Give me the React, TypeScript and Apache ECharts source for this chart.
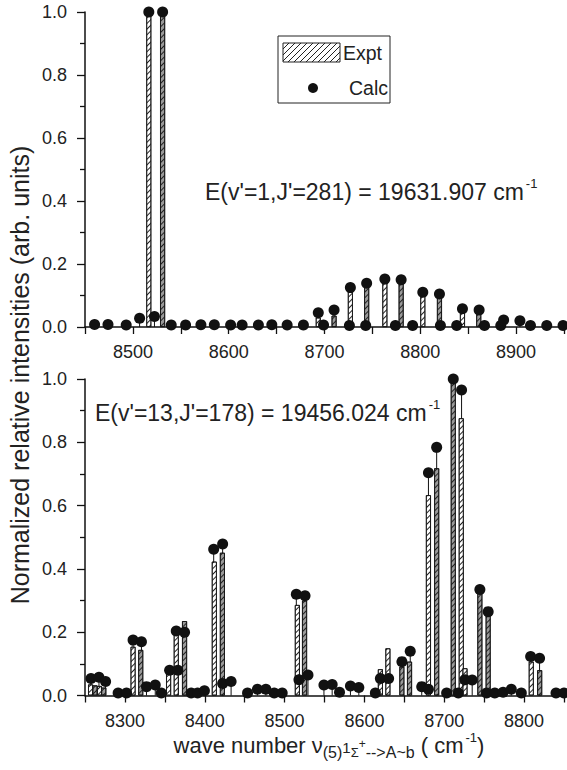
import React, { useEffect, useRef } from "react";
import * as echarts from "echarts";

// ---------- data ----------
// top panel: E(v'=1, J'=281)
const topExptLight: number[][] = [
  [8516.6, 1.0], [8693.5, 0.03], [8727, 0.125], [8763, 0.152], [8802.6, 0.11], [8844, 0.045],
];
const topExptDark: number[][] = [
  [8531, 1.0], [8710, 0.036], [8744, 0.139], [8780, 0.15], [8820, 0.105], [8861, 0.042],
];
const topCalc: number[][] = [
  [8460, 0.008], [8474, 0.008], [8493, 0.006], [8507, 0.028], [8516.6, 1.0], [8522.5, 0.033],
  [8531, 1.0], [8540, 0.006], [8555, 0.006], [8571, 0.007], [8585, 0.007], [8602, 0.006],
  [8614, 0.006], [8631, 0.006], [8645, 0.007], [8661, 0.006], [8678, 0.006], [8693.5, 0.045],
  [8699, 0.006], [8710, 0.054], [8726, 0.005], [8727, 0.125], [8743, 0.005], [8744, 0.139],
  [8763, 0.152], [8774, 0.005], [8780, 0.15], [8792, 0.005], [8802.6, 0.11], [8820, 0.105],
  [8821, 0.005], [8838, 0.005], [8844, 0.058], [8861.4, 0.054], [8867, 0.005], [8884, 0.005],
  [8887, 0.022], [8904, 0.02], [8915, 0.005], [8932, 0.005], [8949, 0.005],
];

// bottom panel: E(v'=13, J'=178)
const botExptLight: number[][] = [
  [8257, 0.035], [8268, 0.03], [8310.2, 0.154], [8354.7, 0.068], [8364.3, 0.195], [8412, 0.423],
  [8516, 0.286], [8620, 0.083], [8629.4, 0.149], [8680.2, 0.633], [8721.3, 0.876], [8726, 0.086],
  [8809, 0.107],
];
const botExptDark: number[][] = [
  [8262.5, 0.032], [8273.5, 0.025], [8319.8, 0.144], [8374.7, 0.235], [8422.1, 0.451], [8525, 0.3],
  [8646.9, 0.091], [8656.5, 0.107], [8690.5, 0.718], [8711.3, 1.0], [8744.6, 0.323], [8755, 0.254],
  [8819.5, 0.08],
];
const botCalc: number[][] = [
  [8257.5, 0.054], [8267.5, 0.058], [8275.8, 0.044], [8291.5, 0.008], [8302, 0.008], [8310.2, 0.175],
  [8320.7, 0.17], [8327, 0.028], [8338, 0.033], [8345.6, 0.008], [8356, 0.08], [8364.3, 0.204],
  [8366.3, 0.08], [8374.7, 0.2], [8383, 0.008], [8391, 0.008], [8399.6, 0.015], [8411.2, 0.462],
  [8422.4, 0.479], [8422.4, 0.038], [8433, 0.044], [8453.6, 0.008], [8466, 0.02], [8476.6, 0.02],
  [8487, 0.008], [8497, 0.008], [8514.7, 0.32], [8518, 0.05], [8525.6, 0.315], [8529.3, 0.065],
  [8549.3, 0.033], [8559.6, 0.035], [8568.8, 0.01], [8582.5, 0.03], [8593, 0.025], [8613.7, 0.008],
  [8620, 0.054], [8630.3, 0.054], [8647, 0.107], [8657.4, 0.14], [8671.8, 0.028], [8680.2, 0.02],
  [8680.2, 0.704], [8690.5, 0.784], [8703, 0.008], [8711.3, 1.0], [8717.6, 0.008], [8721.7, 0.965],
  [8726, 0.05], [8735, 0.049], [8744.6, 0.335], [8753, 0.008], [8755, 0.265], [8763.3, 0.008],
  [8773.7, 0.01], [8784, 0.02], [8796.5, 0.008], [8808.2, 0.123], [8819.4, 0.118], [8840, 0.008],
  [8850, 0.008],
];

const topRange = [8450, 8950];
const botRange = [8250, 8850];
const yTicks = [0, 0.2, 0.4, 0.6, 0.8, 1.0];

const topNote = "E(v'=1,J'=281) = 19631.907 cm";
const botNote = "E(v'=13,J'=178) = 19456.024 cm";
const yTitle = "Normalized relative intensities (arb. units)";

const FONT = "Liberation Sans, Arial, Helvetica, sans-serif";

function xAxisFor(gridIndex: number, range: number[]) {
  return {
    type: "value",
    gridIndex,
    min: range[0],
    max: range[1],
    interval: 50,
    axisLine: { show: true, onZero: false, lineStyle: { color: "#111", width: 1.5 } },
    axisTick: { show: true, length: 7, inside: false, lineStyle: { color: "#111", width: 1.3 } },
    splitLine: { show: false },
    axisLabel: {
      margin: 16,
      fontSize: 18,
      fontFamily: FONT,
      color: "#222",
      showMinLabel: true,
      showMaxLabel: true,
      formatter: (v: number) => (v % 100 === 0 ? String(v) : ""),
    },
  };
}

function yAxisFor(gridIndex: number) {
  return {
    type: "value",
    gridIndex,
    min: yTicks[0],
    max: yTicks[yTicks.length - 1],
    interval: 0.2,
    axisLine: { show: true, lineStyle: { color: "#111", width: 1.5 } },
    axisTick: { show: true, length: 8, lineStyle: { color: "#111", width: 1.3 } },
    minorTick: { show: true, splitNumber: 2, length: 5, lineStyle: { color: "#111", width: 1.3 } },
    splitLine: { show: false },
    axisLabel: {
      margin: 18,
      fontSize: 18,
      fontFamily: FONT,
      color: "#222",
      formatter: (v: number) => v.toFixed(1),
    },
  };
}

const hatch = {
  symbol: "rect",
  symbolSize: 1,
  dashArrayX: [1, 0],
  dashArrayY: [1, 3],
  rotation: -Math.PI / 4,
  color: "#222",
};

function barSeries(idx: number, data: number[][], fill: string) {
  return {
    type: "bar",
    xAxisIndex: idx,
    yAxisIndex: idx,
    data,
    barWidth: 5,
    barGap: "-100%",
    z: 3,
    itemStyle: { color: fill, borderColor: "#111", borderWidth: 0.8, decal: hatch },
  };
}

function stemSeries(idx: number, data: number[][]) {
  return {
    type: "custom",
    xAxisIndex: idx,
    yAxisIndex: idx,
    data,
    z: 2,
    encode: { x: 0, y: 1 },
    renderItem: (_p: any, api: any) => {
      const x = api.value(0);
      const y = api.value(1);
      const a = api.coord([x, 0]);
      const b = api.coord([x, y]);
      return {
        type: "line",
        shape: { x1: a[0], y1: a[1], x2: b[0], y2: b[1] },
        style: { stroke: "#111", lineWidth: 1 },
      };
    },
  };
}

function dotSeries(idx: number, data: number[][]) {
  return {
    type: "scatter",
    xAxisIndex: idx,
    yAxisIndex: idx,
    data,
    symbol: "circle",
    symbolSize: 11,
    z: 5,
    itemStyle: { color: "#111", opacity: 1 },
  };
}

function legendGraphics() {
  const bx = 278, by = 36, bw = 112, bh = 67;
  const sx = 283, sy = 43, sw = 57, sh = 19;
  const items: any[] = [
    { type: "rect", shape: { x: bx, y: by, width: bw, height: bh }, style: { fill: "#fff", stroke: "#222", lineWidth: 1 }, z: 10 },
    { type: "rect", shape: { x: sx, y: sy, width: sw, height: sh }, style: { fill: "#fff", stroke: "#222", lineWidth: 1 }, z: 11 },
  ];
  for (let s = -sh; s < sw; s += 6) {
    const t0 = Math.max(0, -s);
    const t1 = Math.min(sh, sw - s);
    if (t1 <= t0) continue;
    items.push({
      type: "line",
      z: 12,
      shape: { x1: sx + s + t0, y1: sy + sh - t0, x2: sx + s + t1, y2: sy + sh - t1 },
      style: { stroke: "#222", lineWidth: 1 },
    });
  }
  items.push(
    { type: "text", x: 343, y: 53, z: 12, style: { text: "Expt", fontSize: 19.5, fontFamily: FONT, fill: "#222", textVerticalAlign: "middle" } },
    { type: "circle", shape: { cx: 313, cy: 88, r: 5 }, style: { fill: "#111" }, z: 12 },
    { type: "text", x: 349, y: 88, z: 12, style: { text: "Calc", fontSize: 19.5, fontFamily: FONT, fill: "#222", textVerticalAlign: "middle" } },
  );
  return items;
}

function noteText(x: number, y: number, text: string) {
  return {
    type: "text",
    x,
    y,
    z: 10,
    style: {
      text: `{a|${text}}{s|-1}`,
      textVerticalAlign: "middle",
      rich: {
        a: { fontSize: 23, fontFamily: FONT, fill: "#222", color: "#222", lineHeight: 30 },
        s: { fontSize: 13, fontFamily: FONT, fill: "#222", color: "#222", verticalAlign: "top", lineHeight: 14, padding: [0, 0, 0, 2] },
      },
    },
  };
}

export default function App() {
  const ref = useRef<HTMLDivElement>(null);
  useEffect(() => {
    if (!ref.current) return;
    const chart = echarts.init(ref.current, undefined, { renderer: "svg" });
    const option: any = {
      animation: false,
      backgroundColor: "#fff",
      aria: { enabled: false },
      grid: [
        { left: 85, top: 12, width: 482, height: 315 },
        { left: 85, top: 379, width: 482, height: 316.5 },
      ],
      xAxis: [xAxisFor(0, topRange), xAxisFor(1, botRange)],
      yAxis: [yAxisFor(0), yAxisFor(1)],
      series: [
        stemSeries(0, topCalc),
        barSeries(0, topExptLight, "#ffffff"),
        barSeries(0, topExptDark, "#9a9a9a"),
        dotSeries(0, topCalc),
        stemSeries(1, botCalc),
        barSeries(1, botExptLight, "#ffffff"),
        barSeries(1, botExptDark, "#9a9a9a"),
        dotSeries(1, botCalc),
      ],
      graphic: [
        ...legendGraphics(),
        noteText(205, 192, topNote),
        noteText(95, 413, botNote),
        {
          type: "text",
          x: 20,
          y: 375,
          rotation: Math.PI / 2,
          z: 10,
          style: {
            text: yTitle,
            fontSize: 25,
            fontFamily: FONT,
            fill: "#222",
            textAlign: "center",
            textVerticalAlign: "middle",
          },
        },
        {
          type: "text",
          x: 329,
          y: 745,
          z: 10,
          style: {
            text: "{a|wave number ν}{sub|(5)}{one|1}{sig|Σ}{pl|+}{sub|-->A~b}{a| ( cm}{sup|-1}{a|)}",
            textAlign: "center",
            textVerticalAlign: "middle",
            rich: {
              a: { fontSize: 22, fontFamily: FONT, fill: "#222", color: "#222", lineHeight: 40 },
              sub: { fontSize: 16, fontFamily: FONT, fill: "#222", color: "#222", padding: [14, 0, 0, 0] },
              one: { fontSize: 15, fontFamily: FONT, fill: "#222", color: "#222", padding: [4, 0, 0, 0] },
              sig: { fontSize: 13, fontFamily: FONT, fill: "#222", color: "#222", padding: [14, 0, 0, 0] },
              pl: { fontSize: 12, fontFamily: FONT, fill: "#222", color: "#222", padding: [0, 0, 2, 0] },
              sup: { fontSize: 13, fontFamily: FONT, fill: "#222", color: "#222", padding: [0, 0, 16, 2] },
            },
          },
        },
      ],
    };
    chart.setOption(option);
    return () => chart.dispose();
  }, []);
  return (
    <div
      ref={ref}
      style={{ position: "absolute", left: 0, top: 0, width: 567, height: 770, background: "#fff" }}
    />
  );
}
